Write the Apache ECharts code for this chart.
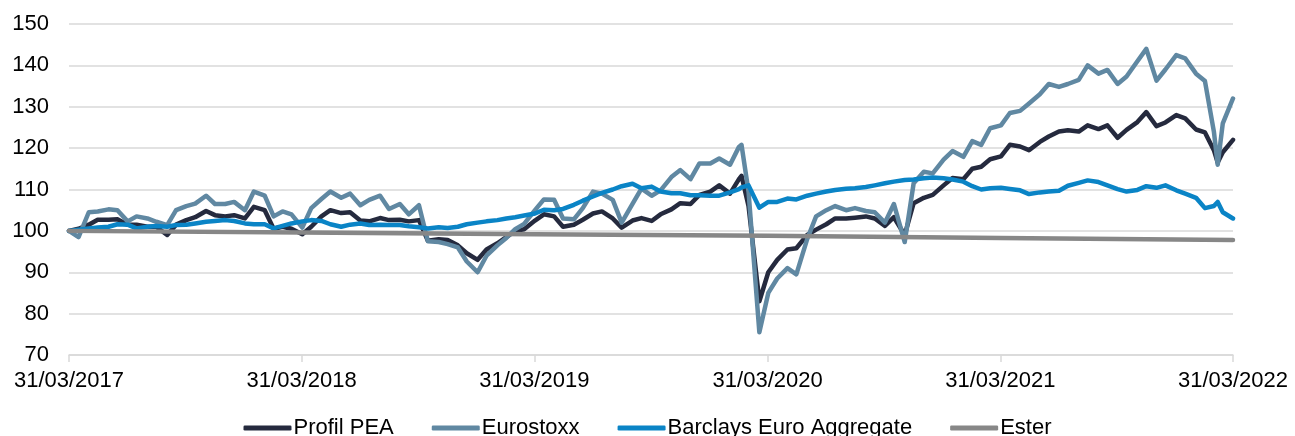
<!DOCTYPE html>
<html>
<head>
<meta charset="utf-8">
<script src="https://cdn.jsdelivr.net/npm/echarts@6/dist/echarts.min.js"></script>
<style>
  html, body { margin: 0; padding: 0; background: #fff; }
  #chart { width: 1295px; height: 436px; }
</style>
</head>
<body>
<div id="chart"></div>
<script>
// dates of the readings (half-monthly, with a few extra points around sharp moves)
const dates = [
  '2017-03-31','2017-04-15','2017-05-01','2017-05-15','2017-06-01','2017-06-15','2017-07-01','2017-07-15',
  '2017-08-01','2017-08-15','2017-09-01','2017-09-15','2017-10-01','2017-10-15','2017-11-01','2017-11-15',
  '2017-12-01','2017-12-15','2018-01-01','2018-01-15','2018-02-01','2018-02-15','2018-03-01','2018-03-15',
  '2018-04-01','2018-04-15','2018-05-01','2018-05-15','2018-06-01','2018-06-15','2018-07-01','2018-07-15',
  '2018-08-01','2018-08-15','2018-09-01','2018-09-15','2018-10-01','2018-10-15','2018-11-01','2018-11-15',
  '2018-12-01','2018-12-15','2019-01-01','2019-01-15','2019-02-01','2019-02-15','2019-03-01','2019-03-15',
  '2019-04-01','2019-04-15','2019-05-01','2019-05-15','2019-06-01','2019-06-15','2019-07-01','2019-07-15',
  '2019-08-01','2019-08-15','2019-09-01','2019-09-15','2019-10-01','2019-10-15','2019-11-01','2019-11-15',
  '2019-12-01','2019-12-15','2020-01-01','2020-01-15','2020-02-01','2020-02-15','2020-02-19','2020-03-01',
  '2020-03-18',
  '2020-04-01','2020-04-15','2020-05-01','2020-05-15','2020-06-01','2020-06-15','2020-07-01','2020-07-15',
  '2020-08-01','2020-08-15','2020-09-01','2020-09-15','2020-10-01','2020-10-15','2020-11-01','2020-11-15',
  '2020-12-01','2020-12-15','2021-01-01','2021-01-15','2021-02-01','2021-02-15','2021-03-01','2021-03-15',
  '2021-04-01','2021-04-15','2021-05-01','2021-05-15','2021-06-01','2021-06-15','2021-07-01','2021-07-15',
  '2021-08-01','2021-08-15','2021-09-01','2021-09-15','2021-10-01','2021-10-15','2021-11-01','2021-11-15',
  '2021-12-01','2021-12-15','2022-01-01','2022-01-15','2022-02-01','2022-02-15','2022-03-01','2022-03-07',
  '2022-03-15','2022-03-31'
];

const profilPea = [
  100, 100.5, 101.5, 102.7, 102.7, 102.8, 101.5, 101.5, 101, 101, 99, 101.5, 102.6, 103.3, 104.8, 103.8,
  103.5, 103.8, 103, 105.8, 105, 100.5, 101, 100.5,
  99.2, 101, 103.5, 105, 104.3, 104.5, 102.5, 102.3, 103.1, 102.6, 102.7, 102.3, 102.6, 97.6, 98, 97.8,
  96.5, 94.6, 93, 95.5, 97, 98.5, 100, 100.4,
  102.5, 104, 103.5, 101, 101.5, 102.7, 104.2, 104.7, 103, 100.8, 102.5, 103.1, 102.4, 104, 105.2, 106.7,
  106.5, 108.7, 109.5, 111, 109, 112.5, 113.3, 106, 83,
  90, 93, 95.5, 95.8, 99, 100.3, 101.6, 103, 103, 103.2, 103.5, 103, 101.2, 103.3, 99, 106.7,
  108, 108.7, 111, 112.8, 112.5, 115, 115.5, 117.3,
  118, 120.8, 120.4, 119.5, 121.5, 122.8, 124, 124.3, 124, 125.5, 124.6, 125.5, 122.5, 124.4, 126.3, 128.7,
  125.3, 126.2, 128, 127.2, 124.5, 123.8, 119.5, 116.5, 119, 122
];

const eurostoxx = [
  100, 98.5, 104.5, 104.7, 105.2, 105, 102.3, 103.5, 103, 102.2, 101.4, 105, 106, 106.6, 108.5, 106.5,
  106.5, 107, 105, 109.5, 108.5, 103.5, 104.7, 104,
  100.8, 105.5, 107.7, 109.5, 108, 109, 106.2, 107.5, 108.5, 105.3, 106.5, 104, 106.2, 97.5, 97.3, 96.8,
  96, 92.6, 90, 94, 96.5, 98.3, 100.4, 101.7,
  105, 107.6, 107.5, 103, 102.8, 105.5, 109.5, 109, 107.5, 102, 106.5, 110.2, 108.5, 109.8, 113, 114.7,
  112.5, 116.3, 116.3, 117.5, 116, 120.3, 120.8, 109.5, 75.5,
  85, 88.5, 91, 89.5, 98, 103.5, 105, 106, 105, 105.5, 104.8, 104.5, 102, 106.5, 97.3, 111.5,
  114.3, 113.9, 117.2, 119.3, 117.9, 121.7, 120.8, 124.8,
  125.5, 128.5, 129, 130.8, 133, 135.5, 134.8, 135.5, 136.5, 140, 138, 138.9, 135.5, 137.3, 141, 144,
  136.3, 139, 142.5, 141.7, 138, 136.2, 124, 116, 126, 132
];

const barclays = [
  100, 100.3, 100.6, 100.8, 101, 101.6, 101.5, 100.6, 101, 101.2, 101, 101.4, 101.5, 101.8, 102.2, 102.4,
  102.6, 102.4, 101.8, 101.6, 101.6, 100.6, 101.2, 101.8,
  102.3, 102.6, 102.4, 101.6, 101, 101.5, 101.8, 101.4, 101.5, 101.4, 101.4, 101.1, 100.9, 100.6, 100.9, 100.7,
  101, 101.6, 102, 102.3, 102.6, 103, 103.3, 103.7,
  104.2, 105.1, 105, 105.3, 106.3, 107.3, 108.3, 109.2, 110, 110.8, 111.4, 110.3, 110.7, 109.5, 109.1, 109.1,
  108.6, 108.6, 108.5, 108.5, 109.3, 110.1, 110.5, 111, 105.6,
  107, 107, 107.8, 107.6, 108.5, 109, 109.5, 109.9, 110.2, 110.3, 110.6, 111, 111.5, 111.9, 112.3, 112.4,
  112.7, 112.9, 112.7, 112.4, 111.9, 110.8, 110, 110.3,
  110.4, 110.1, 109.8, 108.9, 109.3, 109.5, 109.7, 110.9, 111.6, 112.2, 111.8, 111, 110.1, 109.5, 109.9, 110.8,
  110.4, 111, 109.8, 109, 108, 105.5, 106, 107, 104.5, 103
];

const esterDates = ['2017-03-31', '2018-03-31', '2019-03-31', '2020-03-31', '2021-03-31', '2022-03-31'];
const ester = [100, 99.6, 99.2, 98.8, 98.3, 97.8];

const tickDates = ['2017-03-31', '2018-03-31', '2019-03-31', '2020-03-31', '2021-03-31', '2022-03-31'];

const seriesNames = ['Profil PEA', 'Eurostoxx', 'Barclays Euro Aggregate', 'Ester'];
const colors = ['#252a3e', '#6088a2', '#0a84c6', '#878787'];

function toTime(s) {
  const p = s.split('-').map(Number);
  return new Date(p[0], p[1] - 1, p[2]).getTime();
}

function pairs(xs, ys) {
  return xs.map((d, i) => [toTime(d), ys[i]]);
}

const tickValues = tickDates.map(toTime);
const font = 'Liberation Sans, Arial, sans-serif';

const chart = echarts.init(document.getElementById('chart'), null, { renderer: 'canvas' });

const lineSeries = [
  [dates, profilPea],
  [dates, eurostoxx],
  [dates, barclays],
  [esterDates, ester]
].map((s, i) => ({
  name: seriesNames[i],
  type: 'line',
  data: pairs(s[0], s[1]),
  showSymbol: false,
  symbol: 'none',
  lineStyle: { width: 4.5, color: colors[i], cap: 'round', join: 'round' },
  itemStyle: { color: colors[i] }
}));

chart.setOption({
  animation: false,
  color: colors,
  grid: { left: 69, right: 62, top: 24, bottom: 81, containLabel: false },
  legend: {
    bottom: -8,
    left: 'center',
    icon: 'roundRect',
    itemWidth: 48,
    itemHeight: 5,
    itemGap: 38,
    textStyle: { fontFamily: font, fontSize: 22, color: '#000', padding: [0, 0, 0, -3] },
    data: seriesNames
  },
  xAxis: {
    type: 'time',
    min: tickValues[0],
    max: tickValues[tickValues.length - 1],
    axisLine: { show: true, lineStyle: { color: '#d9d9d9', width: 1.5 } },
    axisTick: { show: true, customValues: tickValues, length: 7, lineStyle: { color: '#d9d9d9', width: 1.5 } },
    axisLabel: {
      customValues: tickValues,
      formatter: '{dd}/{MM}/{yyyy}',
      fontFamily: font,
      fontSize: 22,
      color: '#000',
      margin: 15,
      hideOverlap: false,
      showMinLabel: true,
      showMaxLabel: true
    },
    splitLine: { show: false }
  },
  yAxis: {
    type: 'value',
    min: 70,
    max: 150,
    interval: 10,
    axisLine: { show: false },
    axisTick: { show: false },
    axisLabel: { fontFamily: font, fontSize: 22, color: '#000', margin: 20 },
    splitLine: { lineStyle: { color: '#d9d9d9', width: 1.5 } }
  },
  series: lineSeries
});
</script>
</body>
</html>
